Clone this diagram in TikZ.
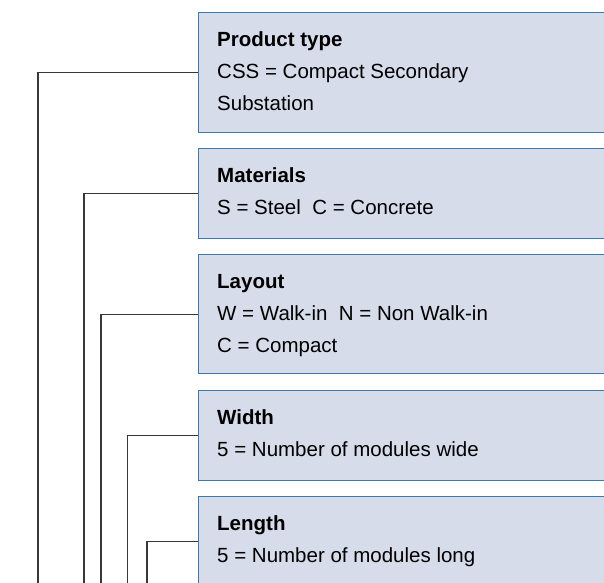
\documentclass[tikz,border=0pt]{standalone}
\usepackage{fontspec}
\setmainfont{Liberation Sans}
\definecolor{boxfill}{HTML}{D6DCE9}
\definecolor{boxline}{HTML}{3F78AA}
\definecolor{conn}{HTML}{383838}
\begin{document}
\begin{tikzpicture}[x=1pt,y=-1pt,
  infobox/.style={draw=boxline,fill=boxfill,line width=1.4pt,rectangle,anchor=north west,minimum width=420pt,inner sep=0pt},
  ttl/.style={anchor=base west,inner sep=0pt,font=\fontsize{20.5}{24}\selectfont\bfseries},
  txt/.style={anchor=base west,inner sep=0pt,font=\fontsize{20.5}{24}\selectfont},
  link/.style={draw=conn,line width=1.4pt}]
\useasboundingbox (0,0) rectangle (604,582);
\clip (0,0) rectangle (604,582);
% boxes
\node[infobox,minimum height=120pt] (b1) at (198,12) {};
\node[infobox,minimum height=90pt] (b2) at (198,148) {};
\node[infobox,minimum height=119pt] (b3) at (198,254) {};
\node[infobox,minimum height=90pt] (b4) at (198,390) {};
\node[infobox,minimum height=90pt] (b5) at (198,496) {};
% texts
\node[ttl] (t1) at (217,46) {Product type};
\node[txt] (d1a) at (217,78) {CSS = Compact Secondary};
\node[txt] (d1b) at (217,110) {Substation};
\node[ttl] (t2) at (217,182) {Materials};
\node[txt] (d2a) at (217,214) {S = Steel\ \ C = Concrete};
\node[ttl] (t3) at (217,288) {Layout};
\node[txt] (d3a) at (217,320) {W = Walk-in\ \ N = Non Walk-in};
\node[txt] (d3b) at (217,352) {C = Compact};
\node[ttl] (t4) at (217,424) {Width};
\node[txt] (d4a) at (217,456) {5 = Number of modules wide};
\node[ttl] (t5) at (217,530) {Length};
\node[txt] (d5a) at (217,562) {5 = Number of modules long};
% connector ends
\coordinate (e1) at (38,590);
\coordinate (e2) at (84,590);
\coordinate (e3) at (101,590);
\coordinate (e4) at (127.5,590);
\coordinate (e5) at (147,590);
\draw[link] (b1.west) -| (e1);
\draw[link] (b2.west) -| (e2);
\draw[link] (b3.west) -| (e3);
\draw[link] (b4.west) -| (e4);
\draw[link] (b5.west) -| (e5);
\end{tikzpicture}
\end{document}
